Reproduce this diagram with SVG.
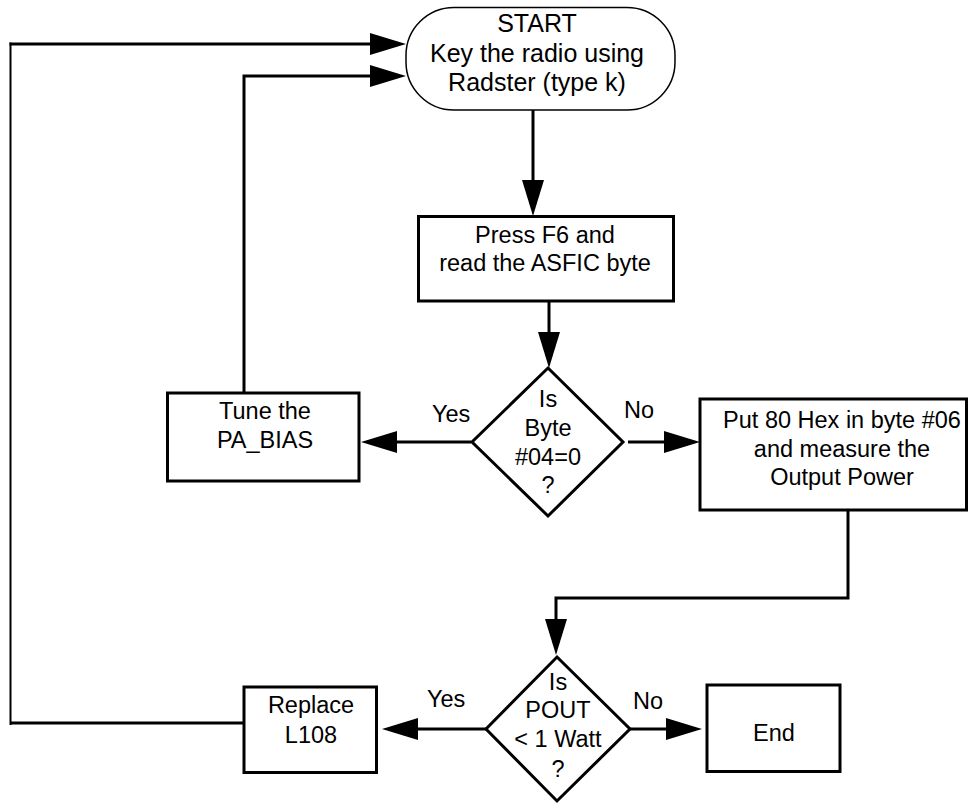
<svg xmlns="http://www.w3.org/2000/svg" width="969" height="804" viewBox="0 0 969 804">
<style>
.box{fill:#fff;stroke:#000;stroke-width:3}
.term{fill:#fff;stroke:#000;stroke-width:1.5}
.t{font-family:"Liberation Sans",Arial,sans-serif;font-size:23.5px;fill:#000;text-anchor:middle}
.ts{font-size:25px}
.lbl{font-family:"Liberation Sans",Arial,sans-serif;font-size:23.5px;fill:#000}
.c{fill:none;stroke:#000;stroke-width:3}
.thin{stroke-width:2}
</style>
<defs>
<marker id="ah" markerUnits="userSpaceOnUse" markerWidth="38" markerHeight="24" refX="18" refY="11" orient="auto">
<path d="M0,0 L36,11 L0,22 z" fill="#000"/>
</marker>
</defs>
<rect width="969" height="804" fill="#fff"/>
<g id="connectors">
<line class="c" x1="533" y1="110" x2="533" y2="198" marker-end="url(#ah)"/>
<line class="c" x1="549" y1="302" x2="549" y2="350" marker-end="url(#ah)"/>
<line class="c" x1="471" y1="442" x2="379" y2="442" marker-end="url(#ah)"/>
<line class="c" x1="628" y1="442" x2="682" y2="442" marker-end="url(#ah)"/>
<polyline class="c" points="244,393 244,76 388,76" marker-end="url(#ah)"/>
<polyline class="c" points="848,510 848,598 556,598 556,637" marker-end="url(#ah)"/>
<line class="c" x1="486" y1="729" x2="400" y2="729" marker-end="url(#ah)"/>
<line class="c" x1="630" y1="729" x2="684" y2="729" marker-end="url(#ah)"/>
<line class="c" x1="244" y1="723" x2="10" y2="723"/>
<line class="c thin" x1="10.5" y1="725" x2="10.5" y2="42.5"/>
<line class="c" x1="9.5" y1="44" x2="388" y2="44" marker-end="url(#ah)"/>
</g>
<g id="start">
<rect class="term" x="406" y="7.5" width="269" height="102.5" rx="48" ry="48"/>
<text class="t ts" x="537" y="32">START</text>
<text class="t ts" x="537" y="62">Key the radio using</text>
<text class="t ts" x="537" y="91">Radster (type k)</text>
</g>
<g id="press">
<rect class="box" x="418.5" y="216.5" width="255" height="84.5"/>
<text class="t" x="545" y="243">Press F6 and</text>
<text class="t" x="545" y="271">read the ASFIC byte</text>
</g>
<g id="decision1">
<polygon class="box" points="548,368 623,442 548,516 472,442"/>
<text class="t" x="548" y="407">Is</text>
<text class="t" x="548" y="436">Byte</text>
<text class="t" x="548" y="465">#04=0</text>
<text class="t" x="548" y="493">?</text>
</g>
<g id="tune">
<rect class="box" x="167.5" y="393" width="191.5" height="88"/>
<text class="t" x="265" y="419">Tune the</text>
<text class="t" x="265" y="448">PA_BIAS</text>
</g>
<g id="put">
<rect class="box" x="700" y="399" width="266.5" height="111"/>
<text class="t" x="842" y="428">Put 80 Hex in byte #06</text>
<text class="t" x="842" y="457">and measure the</text>
<text class="t" x="842" y="485">Output Power</text>
</g>
<g id="decision2">
<polygon class="box" points="557,657 630,729 557,801 486,729"/>
<text class="t" x="558" y="690">Is</text>
<text class="t" x="558" y="718">POUT</text>
<text class="t" x="558" y="747">&lt; 1 Watt</text>
<text class="t" x="558" y="777">?</text>
</g>
<g id="replace">
<rect class="box" x="244" y="687" width="132.5" height="85.5"/>
<text class="t" x="311" y="713">Replace</text>
<text class="t" x="311" y="743">L108</text>
</g>
<g id="end">
<rect class="box" x="707" y="685" width="133" height="86.5"/>
<text class="t" x="774" y="741">End</text>
</g>
<g id="labels">
<text class="lbl" x="432" y="422">Yes</text>
<text class="lbl" x="624" y="418">No</text>
<text class="lbl" x="427" y="707">Yes</text>
<text class="lbl" x="633" y="709">No</text>
</g>
</svg>
